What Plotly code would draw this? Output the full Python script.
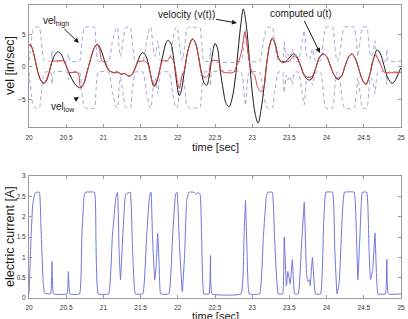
import plotly.graph_objects as go

# ---------------- data ----------------
# bottom panel: electric current [A]
t_cur = [20.00, 20.01, 20.03, 20.05, 20.08, 20.10, 20.14, 20.16, 20.19, 20.21,
         20.29, 20.31, 20.33, 20.51, 20.53, 20.55, 20.68, 20.71, 20.74, 20.76,
         20.88, 20.90, 20.93, 21.07, 21.12, 21.17, 21.19, 21.21, 21.23, 21.26,
         21.30, 21.36, 21.39, 21.43, 21.53, 21.58, 21.62, 21.64, 21.66, 21.69,
         21.71, 21.73, 21.75, 21.77, 21.88, 21.93, 21.97, 21.99, 22.02, 22.06,
         22.09, 22.12, 22.15, 22.22, 22.25, 22.27, 22.30, 22.32, 22.35, 22.42,
         22.44, 22.46, 22.85, 22.89, 22.91, 22.93, 22.96, 23.10, 23.15, 23.19,
         23.21, 23.27, 23.30, 23.35, 23.41, 23.43, 23.46, 23.48, 23.51, 23.54,
         23.57, 23.62, 23.66, 23.70, 23.73, 23.75, 23.77, 23.78, 23.81, 23.85,
         23.92, 23.96, 23.99, 24.08, 24.11, 24.14, 24.17, 24.21, 24.24, 24.37,
         24.40, 24.42, 24.45, 24.48, 24.54, 24.57, 24.59, 24.62, 24.65, 24.67,
         24.69, 24.79, 24.81, 24.83, 25.00]
current = [0.10, 0.60, 1.60, 2.30, 2.58, 2.60, 2.60, 1.80, 0.40, 0.12,
           0.10, 0.90, 0.10, 0.10, 0.65, 0.10, 0.10, 1.50, 2.50, 2.60,
           2.60, 1.40, 0.10, 0.10, 1.50, 2.50, 2.60, 1.20, 0.45, 1.50,
           2.55, 2.60, 1.30, 0.10, 0.10, 1.50, 2.50, 2.60, 1.50, 0.45,
           0.80, 1.60, 0.80, 0.10, 0.10, 1.50, 2.55, 2.60, 1.40, 0.15,
           1.00, 2.40, 2.60, 2.60, 2.55, 2.60, 2.55, 1.50, 0.10, 0.10,
           1.05, 0.10, 0.10, 1.50, 2.40, 1.20, 0.10, 0.10, 1.50, 2.50,
           2.60, 2.60, 1.50, 0.10, 0.10, 1.50, 0.30, 0.65, 0.35, 0.95,
           0.10, 0.10, 1.20, 2.35, 0.60, 0.40, 0.45, 0.30, 1.00, 0.10,
           0.10, 1.80, 2.60, 2.60, 1.20, 0.10, 0.40, 2.00, 2.60, 2.60,
           1.60, 0.45, 1.60, 2.60, 2.60, 1.20, 0.45, 0.70, 1.60, 0.60,
           0.10, 0.10, 0.95, 0.10, 0.10]

# top panel: velocity bounds (dashed), same time base as the current
vel_high = [0.9, 1.9, 4.0, 5.5, 6.1, 6.1, 6.1, 4.4, 1.5, 0.9,
            0.9, 2.6, 0.9, 0.9, 2.0, 0.9, 0.9, 3.8, 5.9, 6.1,
            6.1, 3.6, 0.9, 0.9, 3.8, 5.9, 6.1, 3.2, 1.6, 3.8,
            6.0, 6.1, 3.4, 0.9, 0.9, 3.8, 5.9, 6.1, 3.8, 1.6,
            2.4, 4.0, 2.4, 0.9, 0.9, 3.8, 6.0, 6.1, 3.6, 1.0,
            2.8, 5.7, 6.1, 6.1, 6.0, 6.1, 6.0, 3.8, 0.9, 0.9,
            2.9, 0.9, 0.9, 3.8, 5.7, 3.2, 0.9, 0.9, 3.8, 5.9,
            6.1, 6.1, 3.8, 0.9, 0.9, 3.8, 1.3, 2.0, 1.4, 2.7,
            0.9, 0.9, 3.2, 5.6, 1.9, 1.5, 1.6, 1.3, 2.8, 0.9,
            0.9, 4.4, 6.1, 6.1, 3.2, 0.9, 1.5, 4.9, 6.1, 6.1,
            4.0, 1.6, 4.0, 6.1, 6.1, 3.2, 1.6, 2.1, 4.0, 1.9,
            0.9, 0.9, 2.7, 0.9, 0.9]
vel_low = [-0.8, -1.9, -4.1, -5.6, -6.3, -6.3, -6.3, -4.5, -1.5, -0.8,
           -0.8, -2.6, -0.8, -0.8, -2.0, -0.8, -0.8, -3.9, -6.1, -6.3,
           -6.3, -3.7, -0.8, -0.8, -3.9, -6.1, -6.3, -3.2, -1.6, -3.9,
           -6.2, -6.3, -3.4, -0.8, -0.8, -3.9, -6.1, -6.3, -3.9, -1.6,
           -2.3, -4.1, -2.3, -0.8, -0.8, -3.9, -6.2, -6.3, -3.7, -0.9,
           -2.8, -5.9, -6.3, -6.3, -6.2, -6.3, -6.2, -3.9, -0.8, -0.8,
           -2.9, -0.8, -0.8, -3.9, -5.9, -3.2, -0.8, -0.8, -3.9, -6.1,
           -6.3, -6.3, -3.9, -0.8, -0.8, -3.9, -1.2, -2.0, -1.4, -2.7,
           -0.8, -0.8, -3.2, -5.8, -1.9, -1.5, -1.6, -1.2, -2.8, -0.8,
           -0.8, -4.5, -6.3, -6.3, -3.2, -0.8, -1.5, -5.0, -6.3, -6.3,
           -4.1, -1.6, -4.1, -6.3, -6.3, -3.2, -1.6, -2.1, -4.1, -1.9,
           -0.8, -0.8, -2.7, -0.8, -0.8]

# top panel: reference velocity v(t) (black)
t_vel = [20.00, 20.02, 20.05, 20.08, 20.12, 20.16, 20.20, 20.23, 20.27, 20.31,
         20.35, 20.39, 20.43, 20.47, 20.52, 20.57, 20.63, 20.69, 20.73, 20.78,
         20.83, 20.88, 20.92, 20.96, 21.00, 21.04, 21.08, 21.12, 21.15, 21.18,
         21.21, 21.24, 21.28, 21.31, 21.34, 21.38, 21.42, 21.46, 21.50, 21.53,
         21.57, 21.61, 21.64, 21.68, 21.72, 21.76, 21.80, 21.84, 21.87, 21.91,
         21.95, 21.98, 22.02, 22.05, 22.09, 22.13, 22.17, 22.20, 22.24, 22.28,
         22.32, 22.36, 22.39, 22.42, 22.46, 22.50, 22.53, 22.57, 22.61, 22.65,
         22.69, 22.73, 22.77, 22.81, 22.85, 22.88, 22.92, 22.96, 23.00, 23.04,
         23.08, 23.12, 23.16, 23.20, 23.24, 23.27, 23.31, 23.35, 23.39, 23.43,
         23.47, 23.52, 23.56, 23.60, 23.65, 23.70, 23.76, 23.80, 23.85, 23.90,
         23.95, 24.00, 24.05, 24.10, 24.15, 24.20, 24.25, 24.30, 24.34, 24.39,
         24.44, 24.49, 24.53, 24.58, 24.63, 24.68, 24.72, 24.77, 24.82, 24.88,
         24.93, 24.97, 25.00]
velocity = [3.3, 3.4, 2.6, 1.2, -0.8, -2.1, -2.5, -2.2, -0.9, 0.8,
            1.9, 2.3, 2.0, 1.0, -0.4, -1.7, -2.8, -3.2, -2.7, -0.8,
            1.3, 3.0, 3.5, 2.8, 1.5, 0.1, -0.6, -0.8, -0.9, -0.75,
            -0.9, -1.1, -1.0, -1.2, -1.4, -1.2, -0.4, 0.8, 1.9, 2.2,
            1.7, 0.3, -1.5, -3.0, -2.2, -0.3, 1.8, 3.6, 4.1, 3.5,
            0.8, -2.0, -4.4, -3.5, -0.5, 2.2, 3.8, 4.3, 3.6, 1.5,
            -1.0, -2.6, -2.8, -1.5, 1.5, 3.6, 3.0, -0.5, -3.5, -5.6,
            -6.1, -4.8, -2.0, 2.5, 6.8, 8.9, 6.5, 1.5, -3.8, -7.2,
            -8.6, -6.5, -3.0, 1.0, 3.6, 4.4, 3.5, 1.5, 0.8, 0.7,
            1.0, 1.7, 2.0, 1.6, 0.2, -1.3, -2.0, -1.8, -0.3, 1.4,
            2.0, 1.6, 0.2, -1.2, -1.9, -1.4, 0.2, 1.6, 2.0, 1.2,
            -0.6, -2.2, -2.6, -1.2, 1.2, 2.6, 2.1, 0.3, -1.6, -2.5,
            -1.9, -0.8, -0.1]

# top panel: computed u(t) (red)
t_u = [20.00, 20.02, 20.05, 20.08, 20.12, 20.16, 20.20, 20.23, 20.27, 20.31,
       20.34, 20.47, 20.50, 20.54, 20.66, 20.69, 20.73, 20.78, 20.83, 20.88,
       20.92, 20.95, 20.98, 21.02, 21.05, 21.08, 21.12, 21.15, 21.18, 21.21,
       21.24, 21.28, 21.31, 21.34, 21.38, 21.42, 21.46, 21.50, 21.55, 21.59,
       21.62, 21.65, 21.68, 21.72, 21.76, 21.79, 21.86, 21.90, 21.93, 21.96,
       21.99, 22.02, 22.06, 22.09, 22.13, 22.17, 22.20, 22.24, 22.28, 22.32,
       22.36, 22.39, 22.42, 22.45, 22.55, 22.58, 22.61, 22.75, 22.79, 22.82,
       22.86, 22.90, 22.93, 22.96, 23.00, 23.03, 23.07, 23.10, 23.13, 23.16,
       23.20, 23.24, 23.27, 23.31, 23.35, 23.38, 23.50, 23.52, 23.56, 23.60,
       23.65, 23.70, 23.76, 23.80, 23.85, 23.90, 23.95, 24.00, 24.05, 24.10,
       24.15, 24.20, 24.25, 24.30, 24.34, 24.39, 24.44, 24.49, 24.53, 24.58,
       24.62, 24.66, 24.70, 24.74, 24.78, 25.00]
u_comp = [3.3, 3.4, 2.6, 1.2, -0.8, -2.0, -2.4, -2.0, -0.8, 0.8,
          0.9, 0.9, 0.2, -0.8, -0.9, -3.0, -2.7, -0.8, 1.3, 3.0,
          3.4, 2.6, 0.9, 0.8, 0.1, -0.6, -0.8, -0.9, -0.75, -0.9,
          -1.1, -1.0, -1.2, -1.4, -1.2, -0.4, 0.8, 0.9, 0.9, 0.6,
          -0.5, -2.0, -2.8, -2.0, -0.3, 0.9, 1.0, 1.6, 1.2, 0.2,
          -2.0, -3.3, -1.2, -0.5, 2.2, 3.8, 4.3, 3.6, 1.5, -1.0,
          -1.6, -1.5, -1.0, 0.9, 0.9, -0.5, -0.8, -0.8, 0.2, 0.9,
          2.5, 5.4, 3.5, 1.0, -0.9, -1.2, -3.0, -3.6, -3.8, -3.0,
          1.0, 3.6, 4.4, 3.5, 1.5, 0.9, 0.9, 1.2, 1.7, 1.4,
          0.2, -1.2, -1.6, -1.5, -0.3, 1.3, 2.0, 1.6, 0.2, -1.2,
          -1.7, -1.4, 0.2, 1.6, 2.0, 1.2, -0.6, -2.2, -2.7, -1.2,
          0.9, 1.8, 1.0, 0.0, -0.8, -0.8]

x_ticks = [20, 20.5, 21, 21.5, 22, 22.5, 23, 23.5, 24, 24.5, 25]
x_ticktext = ["20", "20.5", "21", "21.5", "22", "22.5", "23", "23.5", "24", "24.5", "25"]
y1_ticks = [-5, 0, 5]
y2_ticks = [0, 0.5, 1, 1.5, 2, 2.5, 3]
y2_ticktext = ["0", "0.5", "1", "1.5", "2", "2.5", "3"]

# ---------------- figure ----------------
W, H = 408, 319
FONT = "Liberation Sans, Arial, sans-serif"


def px(x):
    return x / W


def py(y):
    return 1 - y / H


fig = go.Figure()

bound_style = dict(color="#a2a7d2", width=1, dash="4px,3px", shape="spline", smoothing=0.5)
fig.add_trace(go.Scatter(x=t_cur, y=vel_high, mode="lines", line=bound_style,
                         xaxis="x", yaxis="y", hoverinfo="skip"))
fig.add_trace(go.Scatter(x=t_cur, y=vel_low, mode="lines", line=bound_style,
                         xaxis="x", yaxis="y", hoverinfo="skip"))
fig.add_trace(go.Scatter(x=t_vel, y=velocity, mode="lines",
                         line=dict(color="#1c1c1c", width=1, shape="spline", smoothing=1.0),
                         xaxis="x", yaxis="y"))
fig.add_trace(go.Scatter(x=t_u, y=u_comp, mode="lines",
                         line=dict(color="#e23c3c", width=1, shape="spline", smoothing=0.8),
                         xaxis="x", yaxis="y"))
fig.add_trace(go.Scatter(x=t_cur, y=current, mode="lines",
                         line=dict(color="#7276d8", width=1, shape="spline", smoothing=0.3),
                         xaxis="x2", yaxis="y2"))

axis_common = dict(showgrid=False, zeroline=False, showline=True, linecolor="#9a9a9a",
                   linewidth=1, mirror="ticks", ticks="inside", ticklen=3, automargin=False,
                   tickcolor="#9a9a9a", tickfont=dict(family=FONT, size=6.5, color="#333"))

xdom = [px(29), px(401)]
fig.update_layout(
    width=W, height=H, margin=dict(l=0, r=0, t=0, b=0, autoexpand=False),
    paper_bgcolor="white", plot_bgcolor="white", showlegend=False,
    font=dict(family=FONT, color="#222"),
    xaxis=dict(domain=xdom, range=[20, 25], anchor="y", tickvals=x_ticks,
               ticktext=x_ticktext, ticklabelstandoff=4, **axis_common),
    yaxis=dict(domain=[py(127), py(5)], range=[-9.2, 9.5], anchor="x",
               tickvals=y1_ticks, ticklabelstandoff=1, **axis_common),
    xaxis2=dict(domain=xdom, range=[20, 25], anchor="y2", tickvals=x_ticks,
                ticktext=x_ticktext, ticklabelstandoff=3, **axis_common),
    yaxis2=dict(domain=[py(298), py(176)], range=[0, 3], anchor="x2",
                tickvals=y2_ticks, ticktext=y2_ticktext, ticklabelstandoff=1, **axis_common),
)

txt = dict(family=FONT, size=10, color="#1a1a1a")
title_font = dict(family=FONT, size=12.5, color="#1a1a1a")
ann = []


def title(text, cx, cy, font, angle=0):
    ann.append(dict(text=text, x=px(cx), y=py(cy), xref="paper", yref="paper",
                    xanchor="center", yanchor="middle", textangle=angle,
                    showarrow=False, font=font))


# axis titles
title("vel [in/sec]", 10, 66, title_font, -90)
title("electric current [A]", 10, 237, title_font, -90)
title("time [sec]", 215, 147, dict(family=FONT, size=11, color="#1a1a1a"))
title("time [sec]", 215, 316, dict(family=FONT, size=11, color="#1a1a1a"))


# labels in the top panel, each with its arrow: (text, text centre px, arrow head px)
def label(text, cx, cy, hx, hy):
    ann.append(dict(text=text, x=px(hx), y=py(hy), xref="paper", yref="paper",
                    ax=cx - hx, ay=cy - hy, showarrow=True, arrowhead=2, arrowsize=1,
                    arrowwidth=1, arrowcolor="#1a1a1a", font=txt, standoff=0, startstandoff=0))


label("vel<sub>high</sub>", 56, 21, 79, 43)
label("vel<sub>low</sub>", 63, 107, 79, 97)
label("velocity (v(t))", 186, 14, 237, 23)
label("computed u(t)", 301, 14, 320, 53)

fig.update_layout(annotations=ann)

fig.write_html("out.html")
